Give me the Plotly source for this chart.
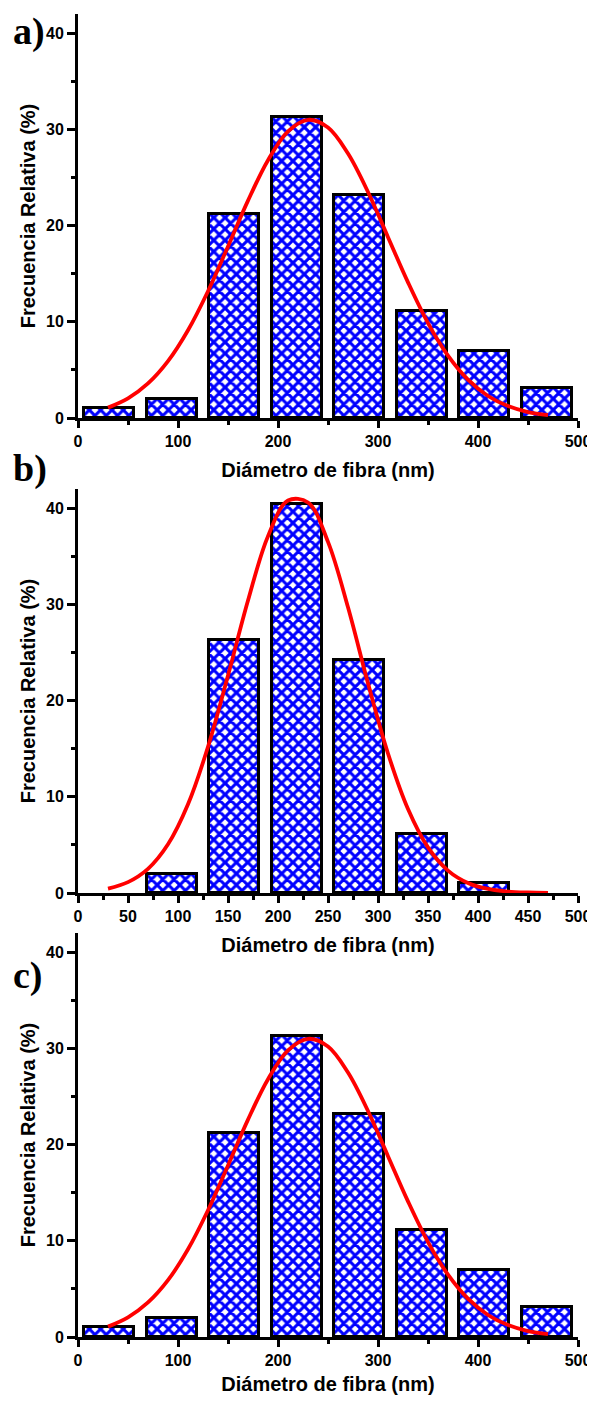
import plotly.graph_objects as go

# ---------------- data ----------------
bin_centers = [31.25, 93.75, 156.25, 218.75, 281.25, 343.75, 406.25, 468.75]
freq_a = [1.0, 2.0, 21.2, 31.3, 23.2, 11.1, 7.0, 3.1]

bin_centers_b = [93.75, 156.25, 218.75, 281.25, 343.75, 406.25]
freq_b = [2.0, 26.3, 40.4, 24.2, 6.1, 1.0]

freq_c = [1.0, 2.0, 21.2, 31.3, 23.2, 11.1, 7.0, 3.1]

fit_x = [30, 50, 70, 90, 110, 130, 150, 170, 190, 210, 230, 250,
         270, 290, 310, 330, 350, 370, 390, 410, 430, 450, 470]
fit_a = [1.08, 2.04, 3.59, 5.91, 9.12, 13.18, 17.84, 22.6, 26.8, 29.8, 31.0, 30.2,
         27.5, 23.5, 18.8, 14.1, 9.87, 6.48, 3.98, 2.29, 1.24, 0.62, 0.29]
fit_b = [0.46, 1.13, 2.51, 5.06, 9.22, 15.2, 22.6, 30.4, 37.1, 40.8, 40.6, 36.5,
         29.7, 21.8, 14.5, 8.73, 4.74, 2.33, 1.04, 0.42, 0.15, 0.05, 0.02]
fit_c = [1.08, 2.04, 3.59, 5.91, 9.12, 13.18, 17.84, 22.6, 26.8, 29.8, 31.0, 30.2,
         27.5, 23.5, 18.8, 14.1, 9.87, 6.48, 3.98, 2.29, 1.24, 0.62, 0.29]

panel_labels = ["a)", "b)", "c)"]
x_title = "Diámetro de fibra (nm)"
y_title = "Frecuencia Relativa (%)"

# ---------------- figure ----------------
# page body has an 8px margin on every side; size the figure so the page does not overflow
W, H = 587, 1387
OFF = 8
fig = go.Figure()

bar_style = dict(
    width=50,
    marker=dict(
        color="white",
        line=dict(color="black", width=3),
        pattern=dict(shape="x", fgcolor="#0000ff", bgcolor="white", fgopacity=1,
                     size=8, solidity=0.62),
    ),
    showlegend=False,
)
line_style = dict(mode="lines", line=dict(color="#ff0000", width=3.8, shape="spline"), showlegend=False)

panels = [
    (bin_centers, freq_a, fit_a, "x", "y", 100, 50, 14),
    (bin_centers_b, freq_b, fit_b, "x2", "y2", 50, 25, 14),
    (bin_centers, freq_c, fit_c, "x3", "y3", 100, 50, 9),
]

for xs, ys, fy, xa, ya, *_ in panels:
    fig.add_trace(go.Bar(x=xs, y=ys, xaxis=xa, yaxis=ya, **bar_style))
    fig.add_trace(go.Scatter(x=fit_x, y=fy, xaxis=xa, yaxis=ya, **line_style))

# screen-pixel geometry (top, bottom of y axis)
ygeo = [(14, 418), (489, 893), (933, 1337)]
x0, x1 = 78, 578

tickfont = dict(family="Liberation Sans, Arial", size=16, color="black", weight="bold")
titlefont = dict(family="Liberation Sans, Arial", size=20, color="black", weight="bold")

layout = dict(
    width=W, height=H,
    margin=dict(l=0, r=0, t=0, b=0, autoexpand=False),
    paper_bgcolor="white", plot_bgcolor="white",
    bargap=0,
)

for i, ((top, bot), p) in enumerate(zip(ygeo, panels)):
    sfx = "" if i == 0 else str(i + 1)
    dt, mdt, so = p[5], p[6], p[7]
    layout["xaxis" + sfx] = dict(
        domain=[(x0 - OFF) / W, (x1 - OFF) / W], range=[0, 500], anchor="y" + sfx,
        showline=True, linewidth=3, linecolor="black",
        ticks="outside", ticklen=7, tickwidth=3, tickcolor="black",
        tickmode="linear", dtick=dt, tick0=0, tickfont=tickfont, automargin=False,
        minor=dict(tickmode="linear", dtick=mdt, tick0=0, ticks="outside", ticklen=4,
                   tickwidth=2.5, tickcolor="black", showgrid=False),
        showgrid=False, zeroline=False,
        title=dict(text=x_title, font=titlefont, standoff=so),
    )
    layout["yaxis" + sfx] = dict(
        domain=[1 - (bot - OFF) / H, 1 - (top - OFF) / H], range=[0, 42], anchor="x" + sfx,
        showline=True, linewidth=3, linecolor="black",
        ticks="outside", ticklen=8, tickwidth=3, tickcolor="black",
        tickmode="linear", dtick=10, tick0=0, tickfont=tickfont, automargin=False,
        minor=dict(tickmode="linear", dtick=5, tick0=0, ticks="outside", ticklen=4,
                   tickwidth=2.5, tickcolor="black", showgrid=False),
        showgrid=False, zeroline=False,
        title=dict(text=y_title, font=titlefont, standoff=6),
    )

fig.update_layout(**layout)

label_y = [31, 469, 975]
for lab, yc in zip(panel_labels, label_y):
    fig.add_annotation(
        text=lab, xref="paper", yref="paper", x=(11 - OFF) / W, y=1 - (yc - OFF) / H,
        xanchor="left", yanchor="middle", showarrow=False,
        font=dict(family="Liberation Serif, Times New Roman", size=38, color="black", weight="bold"),
    )

fig.write_html("out.html")
